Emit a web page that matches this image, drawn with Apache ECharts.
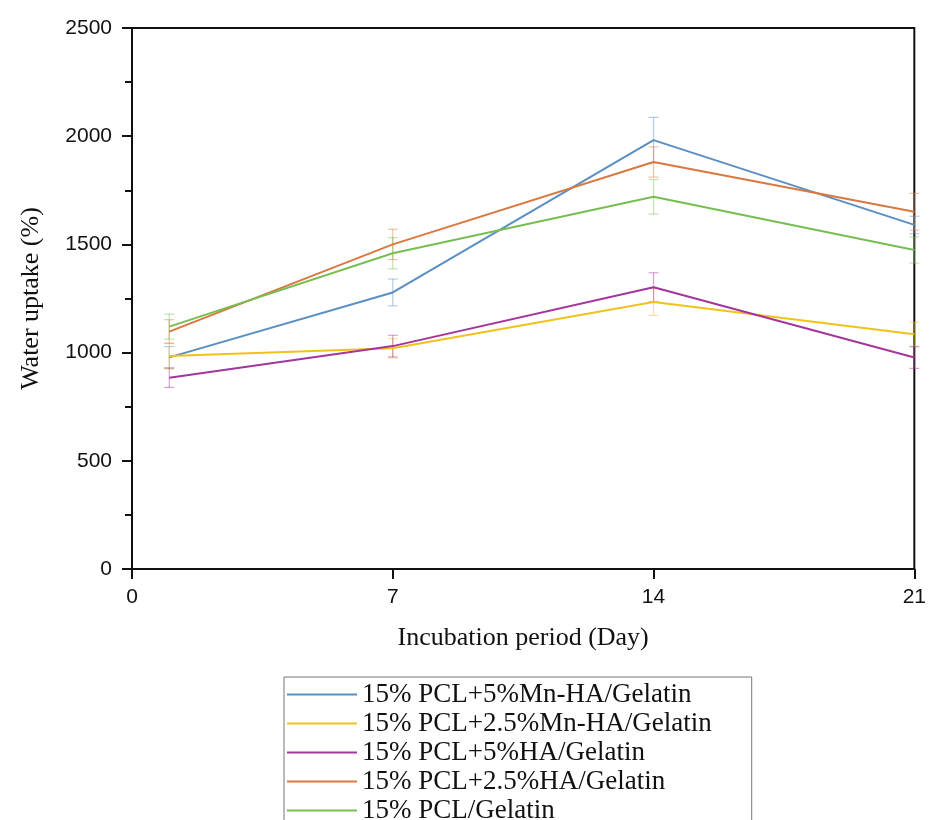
<!DOCTYPE html>
<html>
<head>
<meta charset="utf-8">
<script src="https://cdn.jsdelivr.net/npm/echarts@6/dist/echarts.min.js"></script>
<style>
  html, body { margin: 0; padding: 0; background: #fff; }
  #chart { width: 929px; height: 820px; }
</style>
</head>
<body>
<div id="chart"></div>
<script>
// days where samples were taken
var days = [1, 7, 14, 21];
var xTicks = [0, 7, 14, 21];

var names = [
    '15% PCL+5%Mn-HA/Gelatin',
    '15% PCL+2.5%Mn-HA/Gelatin',
    '15% PCL+5%HA/Gelatin',
    '15% PCL+2.5%HA/Gelatin',
    '15% PCL/Gelatin'
];

// water uptake (%)
var mn5 = [978, 1278, 1982, 1590];
var mn25 = [984, 1020, 1234, 1085];
var ha5 = [884, 1030, 1302, 977];
var ha25 = [1097, 1500, 1881, 1651];
var plain = [1120, 1459, 1720, 1474];

// error (+/-)
var mn5Err = [50, 62, 105, 40];
var mn25Err = [60, 45, 62, 55];
var ha5Err = [45, 50, 67, 50];
var ha25Err = [55, 70, 70, 85];
var plainErr = [58, 72, 80, 60];

var colors = ['#5a8fc4', '#f1c21b', '#a4359a', '#d9783f', '#77be52'];
var errColors = ['rgba(90,143,196,0.45)', 'rgba(241,194,27,0.45)', 'rgba(164,53,154,0.45)', 'rgba(217,120,63,0.45)', 'rgba(119,190,82,0.45)'];

var serif = '"Liberation Serif", "DejaVu Serif", serif';
var sans = '"Liberation Sans", Arial, sans-serif';

function pairs(vals) {
    var out = [];
    for (var i = 0; i < days.length; i++) out.push([days[i], vals[i]]);
    return out;
}

function errData(vals, err) {
    var out = [];
    for (var i = 0; i < days.length; i++) out.push([days[i], vals[i] - err[i], vals[i] + err[i]]);
    return out;
}

function errRender(color) {
    return function (params, api) {
        var x = api.value(0);
        var top = api.coord([x, api.value(2)]);
        var bot = api.coord([x, api.value(1)]);
        var w = 5;
        var st = { stroke: color, lineWidth: 1.2 };
        return {
            type: 'group',
            children: [
                { type: 'line', shape: { x1: top[0], y1: top[1], x2: bot[0], y2: bot[1] }, style: st },
                { type: 'line', shape: { x1: top[0] - w, y1: top[1], x2: top[0] + w, y2: top[1] }, style: st },
                { type: 'line', shape: { x1: bot[0] - w, y1: bot[1], x2: bot[0] + w, y2: bot[1] }, style: st }
            ]
        };
    };
}

window.onload = function () {
    var chart = echarts.init(document.getElementById('chart'));
    var allVals = [mn5, mn25, ha5, ha25, plain];
    var allErr = [mn5Err, mn25Err, ha5Err, ha25Err, plainErr];

    var series = [];
    // error bars first so lines sit on top
    for (var i = 0; i < allVals.length; i++) {
        series.push({
            name: 'err' + i,
            type: 'custom',
            renderItem: errRender(errColors[i]),
            data: errData(allVals[i], allErr[i]),
            encode: { x: 0, y: [1, 2] },
            silent: true,
            z: 1
        });
    }
    for (var j = 0; j < allVals.length; j++) {
        series.push({
            name: names[j],
            type: 'line',
            data: pairs(allVals[j]),
            symbol: 'none',
            color: colors[j],
            lineStyle: { width: 2, color: colors[j] },
            z: 3
        });
    }

    var option = {
        animation: false,
        backgroundColor: '#fff',
        grid: {
            left: 132,
            right: 14,
            top: 28,
            bottom: 251,
            show: true,
            borderColor: '#111',
            borderWidth: 2
        },
        legend: {
            data: names,
            orient: 'vertical',
            left: 284,
            top: 677,
            height: 200,
            icon: 'rect',
            itemWidth: 70,
            itemHeight: 2,
            itemGap: 2,
            padding: [4, 40, 6, 3],
            borderColor: '#777',
            borderWidth: 1,
            textStyle: { fontFamily: serif, fontSize: 27, color: '#111', lineHeight: 25 }
        },
        xAxis: {
            type: 'value',
            min: 0,
            max: 21,
            interval: 7,
            name: 'Incubation period (Day)',
            nameLocation: 'middle',
            nameGap: 56,
            nameTextStyle: { fontFamily: serif, fontSize: 26, color: '#111' },
            axisLine: { lineStyle: { color: '#111', width: 2 } },
            axisTick: { length: 10, lineStyle: { color: '#111', width: 2 } },
            axisLabel: {
                margin: 18,
                fontFamily: sans,
                fontSize: 21,
                color: '#111',
                customValues: xTicks
            },
            splitLine: { show: false }
        },
        yAxis: {
            type: 'value',
            min: 0,
            max: 2500,
            interval: 500,
            name: 'Water uptake (%)',
            nameLocation: 'middle',
            nameGap: 88,
            nameTextStyle: { fontFamily: serif, fontSize: 26, color: '#111' },
            axisLine: { show: true, lineStyle: { color: '#111', width: 2 } },
            axisTick: { show: true, length: 10, lineStyle: { color: '#111', width: 2 } },
            minorTick: { show: true, splitNumber: 2, length: 7, lineStyle: { color: '#111', width: 2 } },
            axisLabel: {
                margin: 20,
                fontFamily: sans,
                fontSize: 21,
                color: '#111',
                formatter: function (v) { return String(v); }
            },
            splitLine: { show: false }
        },
        series: series
    };
    chart.setOption(option, true);
};
</script>
</body>
</html>
